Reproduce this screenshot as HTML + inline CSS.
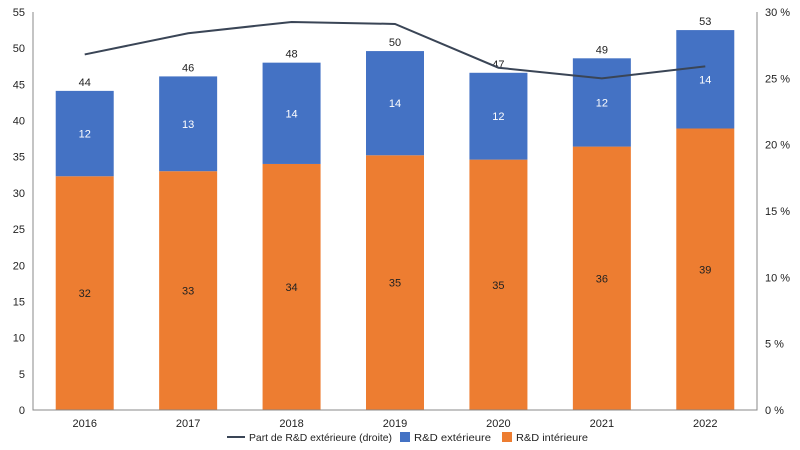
<!DOCTYPE html>
<html><head><meta charset="utf-8"><style>
body{margin:0;background:#fff;font-family:"Liberation Sans",sans-serif}
svg{display:block}
text{font-family:"Liberation Sans",sans-serif;font-size:11px;fill:#222}
</style></head><body>
<svg id="c" width="800" height="450"></svg>
<script>
const years=["2016","2017","2018","2019","2020","2021","2022"];
const interior=[32.3,33.0,34.0,35.2,34.6,36.4,38.9];
const exterior=[11.8,13.1,14.0,14.4,12.0,12.2,13.6];
const interiorLabels=["32","33","34","35","35","36","39"];
const exteriorLabels=["12","13","14","14","12","12","14"];
const totalLabels=["44","46","48","50","47","49","53"];
const share=[26.8,28.4,29.25,29.1,25.8,25.0,25.9];
const leftTicks=[0,5,10,15,20,25,30,35,40,45,50,55];
const rightTicks=[0,5,10,15,20,25,30];

const svg=document.getElementById('c');
const NS="http://www.w3.org/2000/svg";
const X0=33,X1=757,Y0=410,Y1=12;
const bw=(X1-X0)/years.length;
const xc=i=>X0+bw*(i+0.5);
const yL=v=>Y0-(v/55)*(Y0-Y1);
const yR=v=>Y0-(v/30)*(Y0-Y1);
function el(t,a,txt){const e=document.createElementNS(NS,t);for(const k in a)e.setAttribute(k,a[k]);if(txt!==undefined)e.textContent=txt;svg.appendChild(e);return e;}

leftTicks.forEach(v=>{const t=el('text',{x:X0-8,y:yL(v)+4,'text-anchor':'end'},String(v));

});
rightTicks.forEach(v=>{const t=el('text',{x:X1+8,y:yR(v)+4,'text-anchor':'start'},v+' %');

});

const BW=58;
years.forEach((y,i)=>{
  const x=xc(i)-BW/2;
  const r1=el('rect',{x:x,y:yL(interior[i]),width:BW,height:Y0-yL(interior[i]),fill:'#ed7d31'});
  
  
  const tot=interior[i]+exterior[i];
  const r2=el('rect',{x:x,y:yL(tot),width:BW,height:yL(interior[i])-yL(tot),fill:'#4472c4'});
  
  
  const l1=el('text',{x:xc(i),y:(yL(interior[i])+Y0)/2+4,'text-anchor':'middle'},interiorLabels[i]);
  
  
  const l2=el('text',{x:xc(i),y:(yL(interior[i])+yL(tot))/2+4,'text-anchor':'middle',style:'fill:#fff'},exteriorLabels[i]);
  
  
  const l3=el('text',{x:xc(i),y:yL(tot)-5,'text-anchor':'middle'},totalLabels[i]);
  
  
  const xl=el('text',{x:xc(i),y:Y0+17,'text-anchor':'middle'},y);
  
  
});

const ax=el('path',{d:`M${X0} ${Y1}V${Y0}H${X1}V${Y1}`,fill:'none',stroke:'#888','stroke-width':1});



const pts=share.map((v,i)=>xc(i)+','+yR(v)).join(' ');
const ln=el('polyline',{points:pts,fill:'none',stroke:'#3a4556','stroke-width':2});



// legend
const lg1=el('line',{x1:227,y1:437,x2:245,y2:437,stroke:'#3a4556','stroke-width':2});


const lt1=el('text',{x:249,y:441,style:'font-size:10.5px',textLength:143,lengthAdjust:'spacingAndGlyphs'},'Part de R&D extérieure (droite)');


const lg2=el('rect',{x:400,y:432,width:10,height:10,fill:'#4472c4'});


const lt2=el('text',{x:414,y:441,style:'font-size:10.5px',textLength:77,lengthAdjust:'spacingAndGlyphs'},'R&D extérieure');


const lg3=el('rect',{x:502,y:432,width:10,height:10,fill:'#ed7d31'});


const lt3=el('text',{x:516,y:441,style:'font-size:10.5px',textLength:72,lengthAdjust:'spacingAndGlyphs'},'R&D intérieure');


</script>
</body></html>
